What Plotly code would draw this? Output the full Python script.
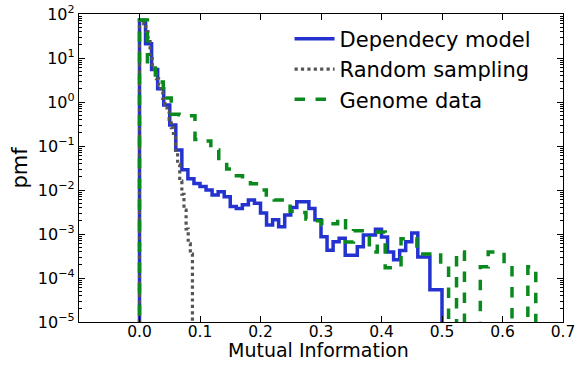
import numpy as np
import plotly.graph_objects as go

# ---- data ----
# Dependency model: 50 bins from 0.0 to 0.5
dep_lo, dep_hi = 0.0, 0.5
dep_pmf = [72, 21, 5.5, 2.0, 0.85, 0.3, 0.081, 0.029, 0.018, 0.014,
           0.012, 0.010, 0.0077, 0.0091, 0.0070, 0.0042, 0.0038, 0.0046, 0.0059, 0.0050,
           0.0030, 0.0016, 0.0021, 0.00147, 0.0027, 0.0040, 0.0054, 0.0054, 0.0038, 0.0021,
           0.00087, 0.00043, 0.00067, 0.0008, 0.00033, 0.00033, 0.00051, 0.00095, 0.00095, 0.00128,
           0.00085, 0.00039, 0.00026, 0.00042, 0.00067, 0.00105, 0.0003, 0.0003, 0.000054, 0.000054]

# Random sampling: 25 bins from 0.0 to 0.0875
rnd_lo, rnd_hi = 0.0, 0.0875
rnd_pmf = [72, 70, 60, 40, 26, 12, 7.0, 5.0, 3.4, 2.4,
           1.7, 1.2, 0.9, 0.6, 0.4, 0.26, 0.17, 0.08, 0.038, 0.016,
           0.008, 0.0035, 0.0013, 0.0006, 0.00035]

# Genome data: 50 bins from 0.0 to 0.655
gen_lo, gen_hi = 0.0, 0.655
gen_pmf = [73, 6.9, 2.85, 1.23, 0.53, 0.51, 0.49, 0.14, 0.13, 0.081,
           0.046, 0.030, 0.021, 0.017, 0.0138, 0.010, 0.0077, 0.0059, 0.0059, 0.0033,
           0.0031, 0.0022, 0.0020, 0.0016, 0.0017, 0.00231, 0.00066, 0.00118, 0.00118, 0.00039,
           0.00111, 0.00017, 0.00017, 0.00078, 0.00078, 0.00035, 0.00035, 0.00037, 0.00019, 0,
           0.00039, 0, 0, 0.00018, 0.00039, 0.00039, 0.00019, 0, 0, 0.00018]

series_names = ["Dependecy model", "Random sampling", "Genome data"]
x_ticks = [0.0, 0.1, 0.2, 0.3, 0.4, 0.5, 0.6, 0.7]
y_ticks = [-5, -4, -3, -2, -1, 0, 1, 2]
x_title = "Mutual Information"
y_title = "pmf"

FLOOR = 1e-12  # zero-height bins drawn down past the bottom of the log axis


def step_path(lo, hi, vals):
    edges = np.linspace(lo, hi, len(vals) + 1)
    v = [max(float(a), FLOOR) for a in vals]
    x = [edges[0]] + list(edges)
    y = [FLOOR] + v + [FLOOR]
    return x, y


fig = go.Figure()
specs = [
    (dep_lo, dep_hi, dep_pmf, dict(color="#2433d0", width=3.5, dash="solid")),
    (rnd_lo, rnd_hi, rnd_pmf, dict(color="#555555", width=3.2, dash="dot")),
    (gen_lo, gen_hi, gen_pmf, dict(color="#0a8a1e", width=3.5, dash="dash")),
]
for name, (lo, hi, vals, ln) in zip(series_names, specs):
    x, y = step_path(lo, hi, vals)
    fig.add_trace(go.Scatter(x=x, y=y, mode="lines", line_shape="hv",
                             line=ln, name=name))

font_family = "DejaVu Sans"
fig.update_layout(
    width=576, height=365,
    margin=dict(l=79, r=13, t=14, b=43, autoexpand=False),
    paper_bgcolor="white", plot_bgcolor="white",
    font=dict(family=font_family, color="black", size=16),
    showlegend=True,
    legend=dict(x=0.435, y=0.985, xanchor="left", yanchor="top",
                bgcolor="rgba(0,0,0,0)", borderwidth=0,
                font=dict(size=21, family=font_family),
                tracegroupgap=0, itemwidth=40),
    annotations=[
        dict(text=x_title, xref="paper", yref="paper", x=0.495, y=-0.134,
             xanchor="center", yanchor="bottom", showarrow=False,
             font=dict(size=19, family=font_family, color="black")),
    ],
)
fig.update_xaxes(
    range=[-0.1, 0.7], tickvals=x_ticks,
    ticktext=[f"{t:.1f}" for t in x_ticks],
    ticks="inside", ticklen=6, tickwidth=1, tickcolor="black",
    showline=True, linecolor="black", linewidth=1.3, mirror="ticks",
    showgrid=False, zeroline=False, automargin=False,
    ticklabeloverflow="allow", ticklabelstandoff=-5,
    tickfont=dict(size=15.5),
)
fig.update_yaxes(
    type="log", range=[-5, 2], tickvals=[10.0 ** k for k in y_ticks],
    ticktext=[f"10<sup>{str(k).replace('-', '−')}</sup>" for k in y_ticks],
    ticks="inside", ticklen=6, tickwidth=1, tickcolor="black",
    minor=dict(ticks="inside", ticklen=3, tickcolor="black", dtick="D1", showgrid=False),
    showline=True, linecolor="black", linewidth=1.3, mirror="ticks",
    showgrid=False, zeroline=False, automargin=False,
    title=dict(text=y_title, font=dict(size=21), standoff=4),
    tickfont=dict(size=16),
)

fig.write_html("out.html")
